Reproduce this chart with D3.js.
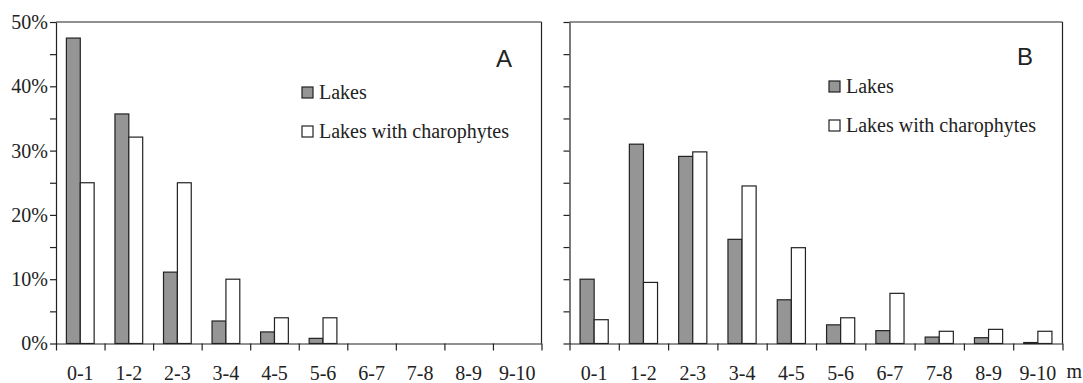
<!DOCTYPE html>
<html>
<head>
<meta charset="utf-8">
<script src="https://cdn.jsdelivr.net/npm/d3@7"></script>
<style>
	body { margin: 0; background: #fff; }
	svg { display: block; }
</style>
</head>
<body>
<div id="chart"></div>
<script>
const depthClasses = ["0-1", "1-2", "2-3", "3-4", "4-5", "5-6", "6-7", "7-8", "8-9", "9-10"];
const seriesNames = ["Lakes", "Lakes with charophytes"];
const yTicks = [0, 5, 10, 15, 20, 25, 30, 35, 40, 45, 50];

// panel A, percent of lakes per depth class
const lakesA = [47.5, 35.7, 11.1, 3.5, 1.8, 0.8, 0, 0, 0, 0];
const charaA = [25, 32.1, 25, 10, 4, 4, 0, 0, 0, 0];

// panel B
const lakesB = [10, 31, 29.1, 16.2, 6.8, 2.9, 2.0, 1.0, 0.9, 0.15];
const charaB = [3.7, 9.5, 29.8, 24.5, 14.9, 4.0, 7.8, 1.9, 2.2, 1.9];

const width = 1083, height = 383;
const colors = ["#959595", "#ffffff"];
const stroke = "#222";
const serif = "'Liberation Serif', 'Times New Roman', serif";

const svg = d3.select("#chart")
	.append("svg")
	.attr("width", width)
	.attr("height", height);

const y = d3.scaleLinear().domain([0, 50]).range([343.5, 22]);

function panel({ x0, x1, lakes, chara, letter, letterPos, legendPos, showLabels, showUnit }) {
	const g = svg.append("g");

	const x = d3.scaleBand().domain(depthClasses).range([x0, x1]).padding(0);
	const xInner = d3.scaleBand().domain(seriesNames).range([0, x.bandwidth()]).paddingInner(0).paddingOuter(0.75);
	const xEdges = d3.scaleLinear().domain([0, depthClasses.length]).range([x0, x1]);

	// frame top + right
	g.append("line")
		.attr("x1", x0).attr("x2", x1).attr("y1", y(50)).attr("y2", y(50))
		.attr("stroke", stroke).attr("stroke-width", 1.2);
	g.append("line")
		.attr("x1", x1).attr("x2", x1).attr("y1", y(50)).attr("y2", y(0))
		.attr("stroke", stroke).attr("stroke-width", 1.2);

	// bars
	const rows = depthClasses.map((c, i) => ({ c, values: [lakes[i], chara[i]] }));
	g.selectAll("g.grp")
		.data(rows)
		.join("g")
		.attr("class", "grp")
		.attr("transform", (d) => `translate(${x(d.c)},0)`)
		.selectAll("rect")
		.data((d) => d.values.map((v, k) => ({ v, k })).filter((d) => d.v > 0))
		.join("rect")
		.attr("x", (d) => xInner(seriesNames[d.k]))
		.attr("y", (d) => y(d.v))
		.attr("width", xInner.bandwidth())
		.attr("height", (d) => y(0) - y(d.v))
		.attr("fill", (d) => colors[d.k])
		.attr("stroke", stroke)
		.attr("stroke-width", 1.2);

	// y axis
	const yAxis = g.append("g")
		.attr("transform", `translate(${x0},0)`)
		.call(d3.axisLeft(y)
			.tickValues(yTicks)
			.tickSize(6)
			.tickSizeOuter(0)
			.tickPadding(2)
			.tickFormat((d) => (showLabels && d % 10 === 0 ? d + "%" : "")));
	yAxis.selectAll("path, line").attr("stroke", stroke).attr("stroke-width", 1.2);
	yAxis.attr("font-family", serif).attr("font-size", 20);
	yAxis.selectAll("text").attr("fill", stroke);

	// x axis: boundary ticks
	const xAxis = g.append("g")
		.attr("transform", `translate(0,${y(0)})`)
		.call(d3.axisBottom(xEdges)
			.tickValues(d3.range(0, depthClasses.length + 1))
			.tickSize(7)
			.tickSizeOuter(0)
			.tickFormat(""));
	xAxis.selectAll("path, line").attr("stroke", stroke).attr("stroke-width", 1.2);

	// x labels
	const xLab = g.append("g")
		.attr("transform", `translate(0,${y(0)})`)
		.call(d3.axisBottom(x).tickSize(0).tickPadding(22));
	xLab.select(".domain").remove();
	xLab.attr("font-family", serif).attr("font-size", 20);
	xLab.selectAll("text").attr("fill", stroke);

	if (showUnit) {
		g.append("text")
			.attr("font-family", serif)
			.attr("fill", stroke)
			.attr("x", x1 + 4)
			.attr("y", 378)
			.attr("font-size", 20)
			.text("m");
	}

	// panel letter
	g.append("text")
		.attr("x", letterPos[0])
		.attr("y", letterPos[1])
		.attr("font-family", "'Liberation Sans', Arial, sans-serif")
		.attr("font-size", 24)
		.attr("fill", "#222")
		.text(letter);

	// legend
	const legend = g.append("g")
		.attr("transform", `translate(${legendPos[0]},${legendPos[1]})`);
	const items = legend.selectAll("g")
		.data(seriesNames)
		.join("g")
		.attr("transform", (_d, i) => `translate(0,${i * 39})`);
	items.append("rect")
		.attr("x", 0).attr("y", -12)
		.attr("width", 11).attr("height", 11)
		.attr("fill", (_d, i) => colors[i])
		.attr("stroke", stroke)
		.attr("stroke-width", 1.2);
	items.append("text")
		.attr("font-family", serif)
		.attr("fill", stroke)
		.attr("x", 17)
		.attr("y", 0)
		.attr("font-size", 20)
		.text((d) => d);
}

panel({
	x0: 56, x1: 541.5, lakes: lakesA, chara: charaA,
	letter: "A", letterPos: [496, 67], legendPos: [302, 99],
	showLabels: true, showUnit: false,
});
panel({
	x0: 569.5, x1: 1062.5, lakes: lakesB, chara: charaB,
	letter: "B", letterPos: [1017, 65], legendPos: [829, 93],
	showLabels: false, showUnit: true,
});
</script>
</body>
</html>
